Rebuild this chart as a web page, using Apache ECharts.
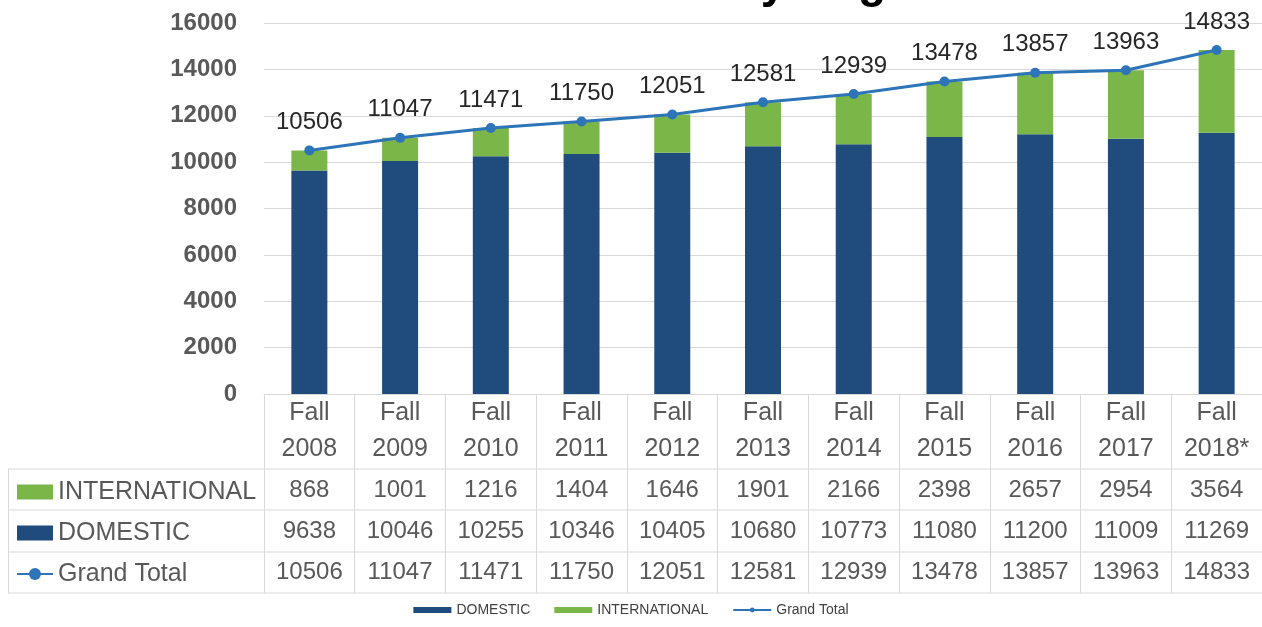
<!DOCTYPE html>
<html>
<head>
<meta charset="utf-8">
<script src="https://cdn.jsdelivr.net/npm/echarts@6/dist/echarts.min.js"></script>
<style>
html,body{margin:0;padding:0;background:#fff;}
#c{width:1262px;height:627px;}
</style>
</head>
<body>
<div id="c"></div>
<script>
const categories = ['Fall 2008','Fall 2009','Fall 2010','Fall 2011','Fall 2012','Fall 2013','Fall 2014','Fall 2015','Fall 2016','Fall 2017','Fall 2018*'];
const international = [868,1001,1216,1404,1646,1901,2166,2398,2657,2954,3564];
const domestic = [9638,10046,10255,10346,10405,10680,10773,11080,11200,11009,11269];
const grandTotal = [10506,11047,11471,11750,12051,12581,12939,13478,13857,13963,14833];
const yMin = 0, yMax = 16000, yStep = 2000;

const FONT = '"Liberation Sans", Arial, sans-serif';
const NAVY = '#1f4b7d', GREEN = '#7ab648', BLUE = '#2e74b8';
const GRID_LINE = '#d9d9d9', TXT = '#595959';

const chart = echarts.init(document.getElementById('c'), null, {renderer: 'canvas'});

function rowAxis(values, margin) {
  return {
    type: 'category', gridIndex: 0, position: 'bottom', data: categories,
    axisLine: {show: false}, axisTick: {show: false}, splitLine: {show: false},
    axisLabel: {
      interval: 0, margin: margin, fontFamily: FONT, fontSize: 24, lineHeight: 30,
      color: TXT, formatter: (v, i) => String(values[i])
    }
  };
}

const hLines = [469, 510, 552, 593];
const graphics = hLines.map(y => ({
  type: 'line', silent: true,
  shape: {x1: 8, y1: y, x2: 1262, y2: y},
  style: {stroke: GRID_LINE, lineWidth: 1}
}));
graphics.push({
  type: 'line', silent: true,
  shape: {x1: 8.5, y1: 469, x2: 8.5, y2: 593},
  style: {stroke: GRID_LINE, lineWidth: 1}
});

const option = {
  backgroundColor: '#fff',
  animation: false,
  title: {
    text: 'Total Student Enrollment by Degree Level',
    left: 'center', top: -44, padding: [5, 0, 5, 294],
    textStyle: {fontFamily: FONT, fontSize: 46, fontWeight: 'bold', color: '#000'}
  },
  grid: {left: 264, right: 0, top: 23, bottom: 233, containLabel: false},
  legend: [
    {
      data: [
        {name: 'INTERNATIONAL', icon: 'rect'},
        {name: 'DOMESTIC', icon: 'rect'},
        {name: 'Grand Total'}
      ],
      orient: 'vertical', left: 16, top: 477, itemGap: 11, padding: 0,
      itemWidth: 36, itemHeight: 15, selectedMode: false,
      textStyle: {fontFamily: FONT, fontSize: 25, lineHeight: 30, color: TXT}
    },
    {
      data: [
        {name: 'DOMESTIC', icon: 'rect'},
        {name: 'INTERNATIONAL', icon: 'rect'},
        {name: 'Grand Total'}
      ],
      orient: 'horizontal', left: 'center', bottom: 5, itemGap: 24,
      itemWidth: 38, itemHeight: 6, selectedMode: false,
      textStyle: {fontFamily: FONT, fontSize: 14, color: '#404040'}
    }
  ],
  xAxis: [
    {
      type: 'category', gridIndex: 0, position: 'bottom', data: categories,
      axisLine: {show: true, lineStyle: {color: GRID_LINE, width: 1}},
      axisTick: {show: true, length: 199, interval: 0, alignWithLabel: false, lineStyle: {color: GRID_LINE, width: 1}},
      axisLabel: {
        interval: 0, margin: 1, fontFamily: FONT, fontSize: 25, lineHeight: 36,
        color: TXT, formatter: v => v.replace(' ', '\n')
      }
    },
    rowAxis(international, 81),
    rowAxis(domestic, 122),
    rowAxis(grandTotal, 163)
  ],
  yAxis: {
    type: 'value', min: yMin, max: yMax, interval: yStep,
    axisLine: {show: false}, axisTick: {show: false},
    splitLine: {lineStyle: {color: GRID_LINE, width: 1}},
    axisLabel: {margin: 27, fontFamily: FONT, fontSize: 24, fontWeight: 'bold', color: TXT,
      formatter: v => String(v)}
  },
  series: [
    {
      name: 'DOMESTIC', type: 'bar', stack: 'total', data: domestic,
      barWidth: 36, itemStyle: {color: NAVY}, xAxisIndex: 0
    },
    {
      name: 'INTERNATIONAL', type: 'bar', stack: 'total', data: international,
      barWidth: 36, itemStyle: {color: GREEN}, xAxisIndex: 0
    },
    {
      name: 'Grand Total', type: 'line', data: grandTotal, xAxisIndex: 0,
      symbol: 'circle', symbolSize: 10, z: 5,
      lineStyle: {color: BLUE, width: 3}, itemStyle: {color: BLUE},
      label: {
        show: true, position: 'top', distance: 8, fontFamily: FONT, fontSize: 24,
        lineHeight: 30, color: '#262626'
      }
    }
  ],
  graphic: graphics
};
chart.setOption(option);
</script>
</body>
</html>
